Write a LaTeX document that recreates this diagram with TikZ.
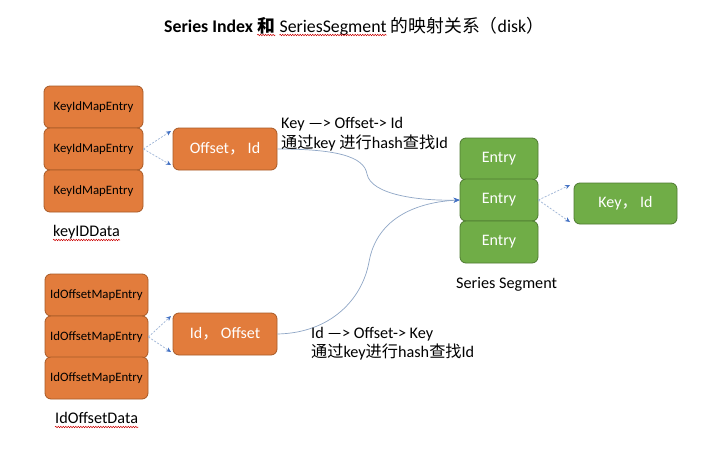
\documentclass[tikz,border=0pt]{standalone}
\usepackage{fontspec}
\setmainfont{Carlito}
\newfontfamily\cjk{Noto Sans CJK SC}
\usetikzlibrary{arrows.meta,decorations.pathmorphing,calc}
\definecolor{org}{HTML}{E27C3C}
\definecolor{orgd}{HTML}{A85A26}
\definecolor{grn}{HTML}{70AD47}
\definecolor{grnd}{HTML}{4E7A31}
\definecolor{lnk}{HTML}{8FA6C6}
\definecolor{tipc}{HTML}{4472C4}
\definecolor{dsh}{HTML}{9DB4D6}
\begin{document}
\begin{tikzpicture}[x=1pt,y=-1pt,
  box/.style={rounded corners=6pt, line width=0.8pt, inner sep=0pt, align=center},
  obox/.style={box, draw=orgd, fill=org},
  gbox/.style={box, draw=grnd, fill=grn, text=white, font=\fontsize{16}{18}\selectfont},
  small/.style={font=\fontsize{12.8}{15}\selectfont, text=black},
  big/.style={font=\fontsize{16}{18}\selectfont, text=white},
  lbl/.style={inner sep=0pt, font=\fontsize{16.2}{19}\selectfont, anchor=base west},
  title/.style={inner sep=0pt, font=\fontsize{17.8}{21}\selectfont, anchor=base west},
  link/.style={draw=lnk, line width=0.7pt, -{Stealth[length=6pt,width=5pt,color=tipc]}},
  dlink/.style={draw=dsh, line width=0.7pt, dashed, dash pattern=on 2pt off 1.5pt, -{Stealth[length=5pt,width=4.5pt,color=tipc]}},
  squig/.style={draw=red!80!black, line width=0.5pt, decorate, decoration={snake, amplitude=0.7pt, segment length=2.5pt}}
]
\useasboundingbox (0,0) rectangle (720,453);
\fill[white] (0,0) rectangle (720,453);

% title
\node[title] (t1) at (164,32) {\bfseries Series Index};
\node[title] (t2) at ([xshift=4pt]t1.base east) {\cjk\bfseries 和};
\node[title] (t3) at ([xshift=4pt]t2.base east) {SeriesSegment};
\node[title] (t4) at ([xshift=4pt]t3.base east) {{\cjk 的映射关系（}disk{\cjk ）}};
\draw[squig] ($(t2.base west)+(0,3)$) -- ($(t2.base east)+(0,3)$);
\draw[squig] ($(t3.base west)+(0,3)$) -- ($(t3.base east)+(0,3)$);

% key id stack
\node[obox, small, minimum width=99pt, minimum height=42pt] (k1) at (93.5,107) {KeyIdMapEntry};
\node[obox, small, minimum width=99pt, minimum height=42pt] (k2) at (93.5,149) {KeyIdMapEntry};
\node[obox, small, minimum width=99pt, minimum height=42pt] (k3) at (93.5,191) {KeyIdMapEntry};
\node[lbl] (kl) at (53,236) {keyIDData};
\draw[squig] ($(kl.base west)+(0,4)$) -- ($(kl.base east)+(0,4)$);

\node[obox, big, minimum width=104pt, minimum height=42pt] (off) at (225,149) {Offset{\cjk ，}\,Id};
\coordinate (a1) at (171,131);
\coordinate (a2) at (171,165);
\draw[dlink] (k2.east) -- (a1);
\draw[dlink] (k2.east) -- (a2);

% id offset stack
\node[obox, small, minimum width=103pt, minimum height=42pt] (i1) at (96.5,295) {IdOffsetMapEntry};
\node[obox, small, minimum width=103pt, minimum height=42pt] (i2) at (96.5,337) {IdOffsetMapEntry};
\node[obox, small, minimum width=103pt, minimum height=42pt] (i3) at (96.5,378) {IdOffsetMapEntry};
\node[lbl] (il) at (55,423) {IdOffsetData};
\draw[squig] ($(il.base west)+(0,4)$) -- ($(il.base east)+(0,4)$);

\node[obox, big, minimum width=104pt, minimum height=42pt] (ido) at (225,334) {Id{\cjk ，}\,Offset};
\coordinate (b1) at (171,316);
\coordinate (b2) at (171,352);
\draw[dlink] (i2.east) -- (b1);
\draw[dlink] (i2.east) -- (b2);

% green
\node[gbox, minimum width=78pt, minimum height=42pt] (e1) at (499,159) {Entry};
\node[gbox, minimum width=78pt, minimum height=42pt] (e2) at (499,200) {Entry};
\node[gbox, minimum width=78pt, minimum height=42pt] (e3) at (499,242) {Entry};
\node[lbl, text=black] (sl) at (456,288) {Series Segment};
\node[gbox, minimum width=103pt, minimum height=41pt] (kid) at (625.5,203.5) {Key{\cjk ，}\,Id};
\coordinate (c1) at (570,185);
\coordinate (c2) at (570,222);
\draw[dlink] (e2.east) -- (c1);
\draw[dlink] (e2.east) -- (c2);

% curves
\draw[link] (off.east) .. controls (335,149) and (364,156) .. (367,174) .. controls (371,195) and (420,201) .. (e2.west);
\draw[link] (ido.east) .. controls (330,333) and (362,300) .. (369,262) .. controls (377,216) and (420,202) .. (e2.west);

% annotations
\node[lbl] (n1) at (281,128) {Key —> Offset-> Id};
\node[lbl] (n2) at (281,148) {{\cjk 通过}key {\cjk 进行}hash{\cjk 查找}Id};
\node[lbl] (n3) at (311,338) {Id —> Offset-> Key};
\node[lbl] (n4) at (311,357) {{\cjk 通过}key{\cjk 进行}hash{\cjk 查找}Id};
\end{tikzpicture}
\end{document}
